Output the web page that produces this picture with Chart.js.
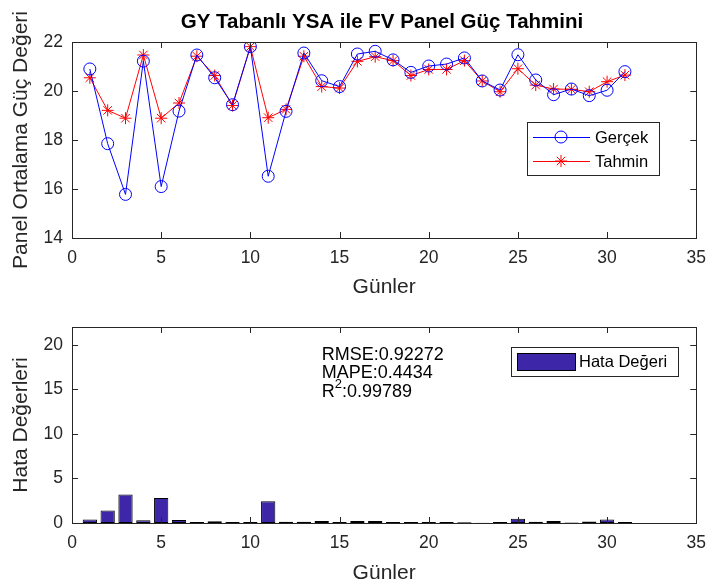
<!DOCTYPE html>
<html>
<head>
<meta charset="utf-8">
<script src="https://cdn.jsdelivr.net/npm/chart.js@4/dist/chart.umd.min.js"></script>
<style>
body { margin: 0; background: #fff; width: 708px; height: 588px; overflow: hidden; }
canvas { position: absolute; left: 0; }
</style>
</head>
<body>
<canvas id="topChart" width="708" height="300" style="top:0"></canvas>
<canvas id="botChart" width="708" height="288" style="top:300px"></canvas>
<script>
// data (days 1..31)
const days = [1,2,3,4,5,6,7,8,9,10,11,12,13,14,15,16,17,18,19,20,21,22,23,24,25,26,27,28,29,30,31];
const gercek = [20.90,17.85,15.78,21.22,16.10,19.18,21.47,20.54,19.44,21.81,16.52,19.17,21.55,20.42,20.18,21.51,21.62,21.27,20.76,21.02,21.10,21.35,20.41,20.04,21.48,20.45,19.85,20.08,19.81,20.03,20.79];
const tahmin = [20.54,19.21,18.89,21.47,18.89,19.51,21.42,20.63,19.41,21.81,18.91,19.25,21.42,20.18,20.12,21.21,21.40,21.24,20.63,20.88,20.88,21.24,20.41,19.97,20.91,20.24,20.08,20.07,19.97,20.38,20.65];
const hata = [0.38,1.39,3.19,0.30,2.82,0.34,0.11,0.19,0.10,0.10,2.44,0.15,0.15,0.22,0.10,0.22,0.22,0.10,0.10,0.12,0.10,0.08,0.04,0.10,0.49,0.15,0.22,0.05,0.17,0.38,0.12];
const xTicks = [0,5,10,15,20,25,30,35];
const yTicksTop = [14,16,18,20,22];
const yTicksBot = [0,5,10,15,20];
const stats = ['RMSE:0.92272', 'MAPE:0.4434', ':0.99789'];

const FONT = "'Liberation Sans', Arial, sans-serif";
const AX = '#262626';

function pts(ys) { return days.map((d, i) => ({x: d, y: ys[i]})); }

// MATLAB style box with inward ticks on all four sides
const frame = {
  id: 'frame',
  afterDraw(c) {
    const {ctx, chartArea: a, scales} = c;
    ctx.save();
    ctx.strokeStyle = AX;
    ctx.lineWidth = 1;
    ctx.strokeRect(Math.round(a.left) + 0.5, Math.round(a.top) + 0.5, Math.round(a.right - a.left), Math.round(a.bottom - a.top));
    ctx.beginPath();
    scales.x.ticks.forEach(t => {
      const x = Math.round(scales.x.getPixelForValue(t.value)) + 0.5;
      ctx.moveTo(x, a.bottom); ctx.lineTo(x, a.bottom - 6);
      ctx.moveTo(x, a.top); ctx.lineTo(x, a.top + 6);
    });
    scales.y.ticks.forEach(t => {
      const y = Math.round(scales.y.getPixelForValue(t.value)) + 0.5;
      ctx.moveTo(a.left, y); ctx.lineTo(a.left + 6, y);
      ctx.moveTo(a.right, y); ctx.lineTo(a.right - 6, y);
    });
    ctx.stroke();
    ctx.restore();
  }
};

function xScale(h) {
  return {
    type: 'linear', min: 0, max: 35, offset: false,
    afterBuildTicks: s => { s.ticks = xTicks.map(v => ({value: v})); },
    afterFit: s => { s.height = h; },
    grid: {display: false}, border: {display: false},
    ticks: {color: AX, font: {family: FONT, size: 17.5}, padding: 2, maxRotation: 0},
    title: {display: true, text: 'Günler', color: AX, font: {family: FONT, size: 21}, padding: {top: 2, bottom: 0}}
  };
}

function yScale(min, max, ticks, label) {
  return {
    min: min, max: max,
    afterBuildTicks: s => { s.ticks = ticks.map(v => ({value: v})); },
    afterFit: s => { s.width = 72; },
    grid: {display: false}, border: {display: false},
    ticks: {color: AX, font: {family: FONT, size: 17.5}, padding: 1},
    title: {display: true, text: label, color: AX, font: {family: FONT, size: 21}, padding: {top: 9, bottom: 0}}
  };
}

const topExtras = {
  id: 'topExtras',
  afterDraw(c) {
    const ctx = c.ctx;
    ctx.save();
    ctx.fillStyle = '#000';
    ctx.font = 'bold 20.5px ' + FONT;
    ctx.textAlign = 'center';
    ctx.textBaseline = 'middle';
    ctx.fillText('GY Tabanlı YSA ile FV Panel Güç Tahmini', 382, 22);
    // legend
    const L = 527, T = 122, R = 659, B = 175;
    ctx.fillStyle = '#fff';
    ctx.fillRect(L, T, R - L, B - T);
    ctx.strokeStyle = '#262626';
    ctx.strokeRect(L + 0.5, T + 0.5, R - L, B - T);
    const rows = [{y: 137, col: '#0000ff', txt: 'Gerçek', star: false}, {y: 161, col: '#ff0000', txt: 'Tahmin', star: true}];
    rows.forEach(r => {
      ctx.strokeStyle = r.col;
      ctx.lineWidth = 1;
      ctx.beginPath(); ctx.moveTo(533, r.y + 0.5); ctx.lineTo(590, r.y + 0.5); ctx.stroke();
      ctx.beginPath();
      if (r.star) {
        const s = 6;
        for (let k = 0; k < 4; k++) {
          const ang = k * Math.PI / 4;
          ctx.moveTo(561 - s * Math.cos(ang), r.y - s * Math.sin(ang));
          ctx.lineTo(561 + s * Math.cos(ang), r.y + s * Math.sin(ang));
        }
      } else {
        ctx.arc(561, r.y, 6, 0, Math.PI * 2);
      }
      ctx.stroke();
      ctx.fillStyle = '#000';
      ctx.font = '16.5px ' + FONT;
      ctx.textAlign = 'left';
      ctx.fillText(r.txt, 595, r.y + 1);
    });
    ctx.restore();
  }
};

new Chart(document.getElementById('topChart'), {
  type: 'line',
  data: {
    datasets: [
      {label: 'Gerçek', data: pts(gercek), borderColor: '#0000ff', backgroundColor: 'rgba(0,0,0,0)',
       borderWidth: 1, pointStyle: 'circle', pointRadius: 6, pointBorderWidth: 1, pointBorderColor: '#0000ff', tension: 0},
      {label: 'Tahmin', data: pts(tahmin), borderColor: '#ff0000', backgroundColor: 'rgba(0,0,0,0)',
       borderWidth: 1, pointStyle: 'star', pointRadius: 6, pointBorderWidth: 1, pointBorderColor: '#ff0000', tension: 0}
    ]
  },
  options: {
    responsive: false, animation: false, events: [],
    layout: {padding: {left: 0, right: 11, top: 42, bottom: 0}},
    plugins: {legend: {display: false}, title: {display: false}, tooltip: {enabled: false}},
    scales: {x: xScale(62), y: yScale(14, 22, yTicksTop, 'Panel Ortalama Güç Değeri')}
  },
  plugins: [frame, topExtras]
});

const botExtras = {
  id: 'botExtras',
  afterDraw(c) {
    const ctx = c.ctx;
    const sx = c.scales.x, sy = c.scales.y;
    ctx.save();
    ctx.fillStyle = '#000';
    ctx.font = '18px ' + FONT;
    ctx.textAlign = 'left';
    ctx.textBaseline = 'middle';
    const x0 = sx.getPixelForValue(14);
    ctx.fillText(stats[0], x0, sy.getPixelForValue(18.8));
    ctx.fillText(stats[1], x0, sy.getPixelForValue(16.8));
    const yR = sy.getPixelForValue(14.7);
    ctx.fillText('R', x0, yR);
    const wR = ctx.measureText('R').width;
    ctx.font = '13px ' + FONT;
    ctx.fillText('2', x0 + wR, yR - 8);
    const w2 = ctx.measureText('2').width;
    ctx.font = '18px ' + FONT;
    ctx.fillText(stats[2], x0 + wR + w2, yR);
    // legend
    const L = 511, T = 47, R = 678, B = 76;
    ctx.fillStyle = '#fff';
    ctx.fillRect(L, T, R - L, B - T);
    ctx.strokeStyle = '#262626';
    ctx.lineWidth = 1;
    ctx.strokeRect(L + 0.5, T + 0.5, R - L, B - T);
    ctx.fillStyle = 'rgb(62,38,168)';
    ctx.fillRect(517, 53, 58, 18);
    ctx.strokeStyle = '#000';
    ctx.strokeRect(517.5, 53.5, 58, 17);
    ctx.fillStyle = '#000';
    ctx.font = '16.5px ' + FONT;
    ctx.fillText('Hata Değeri', 579, 62);
    ctx.restore();
  }
};

new Chart(document.getElementById('botChart'), {
  type: 'bar',
  data: {
    datasets: [
      {label: 'Hata Değeri', data: pts(hata), backgroundColor: 'rgb(62,38,168)', borderColor: '#000',
       borderWidth: 1, barPercentage: 0.8, categoryPercentage: 1, borderSkipped: false}
    ]
  },
  options: {
    responsive: false, animation: false, events: [],
    layout: {padding: {left: 0, right: 11, top: 27, bottom: 2}},
    plugins: {legend: {display: false}, title: {display: false}, tooltip: {enabled: false}},
    scales: {x: xScale(63), y: yScale(0, 22, yTicksBot, 'Hata Değerleri')}
  },
  plugins: [frame, botExtras]
});
</script>
</body>
</html>
